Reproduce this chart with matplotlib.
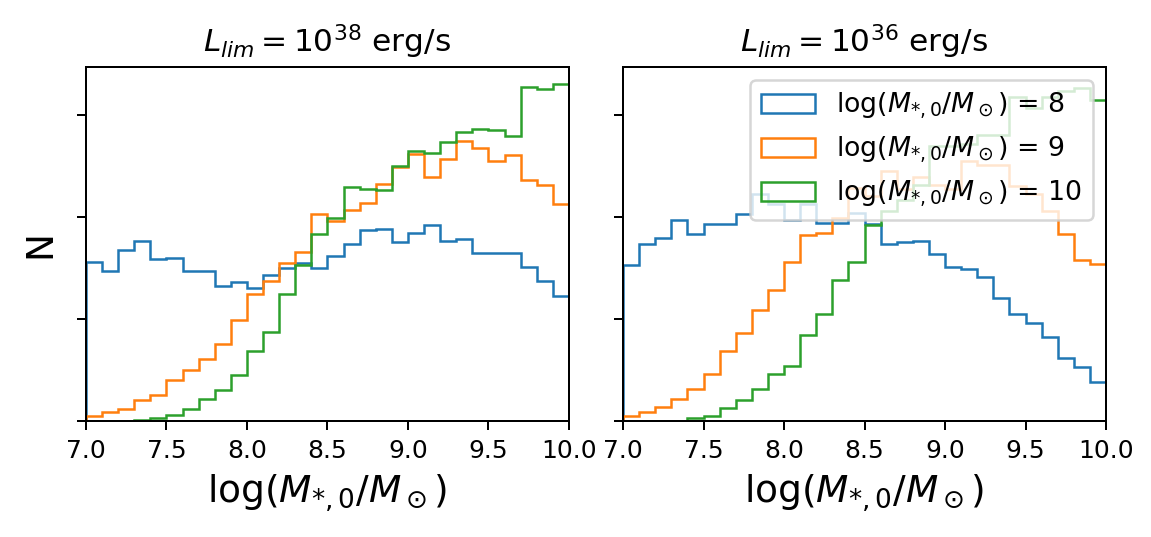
import numpy as np
import matplotlib
matplotlib.use("Agg")
import matplotlib.pyplot as plt

# bin edges: 30 bins between 7 and 10
edges = np.linspace(7.0, 10.0, 31)
centers = 0.5 * (edges[:-1] + edges[1:])

# counts (arbitrary units, y ticks are unlabelled)
left_m8 = [1.561, 1.475, 1.679, 1.767, 1.590, 1.600, 1.469, 1.469, 1.325, 1.367,
           1.305, 1.433, 1.502, 1.551, 1.495, 1.616, 1.734, 1.875, 1.885, 1.751,
           1.839, 1.918, 1.760, 1.786, 1.645, 1.645, 1.645, 1.511, 1.377, 1.226]
left_m9 = [0.046, 0.089, 0.115, 0.203, 0.256, 0.400, 0.498, 0.607, 0.754, 0.990,
           1.246, 1.374, 1.544, 1.659, 2.033, 1.957, 2.065, 2.140, 2.327, 2.491,
           2.622, 2.396, 2.566, 2.740, 2.681, 2.547, 2.609, 2.360, 2.317, 2.130]
left_m10 = [0.0, 0.0, 0.003, 0.007, 0.026, 0.059, 0.118, 0.213, 0.302, 0.452,
            0.685, 0.872, 1.246, 1.525, 1.830, 1.986, 2.291, 2.271, 2.262, 2.501,
            2.645, 2.625, 2.734, 2.832, 2.861, 2.852, 2.789, 3.271, 3.251, 3.304]

right_m8 = [1.534, 1.734, 1.797, 1.974, 1.833, 1.928, 1.934, 2.032, 2.229, 2.131,
            1.973, 2.131, 1.943, 1.943, 2.040, 1.928, 1.738, 1.751, 1.761, 1.636,
            1.511, 1.492, 1.410, 1.210, 1.049, 0.961, 0.823, 0.613, 0.528, 0.387]
right_m9 = [0.046, 0.089, 0.138, 0.213, 0.311, 0.459, 0.685, 0.862, 1.085, 1.285,
            1.561, 1.820, 1.843, 1.990, 2.280, 2.210, 2.450, 2.270, 2.390, 2.310,
            2.270, 2.547, 2.507, 2.507, 2.301, 2.229, 2.056, 1.829, 1.580, 1.541]
right_m10 = [0.0, 0.0, 0.0, 0.003, 0.026, 0.046, 0.125, 0.203, 0.318, 0.459,
             0.538, 0.843, 1.049, 1.384, 1.554, 1.925, 2.060, 2.163, 2.311, 2.700,
             2.700, 2.720, 2.800, 2.800, 3.180, 3.065, 3.180, 3.235, 3.260, 3.146]

labels = [r'log($M_{*,0}/M_\odot$) = 8',
          r'log($M_{*,0}/M_\odot$) = 9',
          r'log($M_{*,0}/M_\odot$) = 10']
titles = [r'$L_{lim}=10^{38}$ erg/s', r'$L_{lim}=10^{36}$ erg/s']

fig, axes = plt.subplots(1, 2, figsize=(1151/180, 537/180), dpi=180, sharey=True)
plt.subplots_adjust(left=0.0747, right=0.9609, bottom=0.216, top=0.8752, wspace=0.112)

panels = [[left_m8, left_m9, left_m10], [right_m8, right_m9, right_m10]]
for ax, data, title in zip(axes, panels, titles):
    for vals, lab in zip(data, labels):
        ax.hist(centers, bins=edges, weights=vals, histtype='step', label=lab)
    ax.set_xlim(7, 10)
    ax.set_ylim(0, 3.47)
    ax.set_yticks([0, 1, 2, 3])
    ax.set_yticklabels([])
    ax.set_xticks(np.arange(7.0, 10.01, 0.5))
    ax.set_xlabel(r'log($M_{*,0}/M_\odot$)', fontsize=15)
    ax.set_title(title, fontsize=12.5)

axes[0].set_ylabel('N', fontsize=15)
axes[1].legend(loc='upper right', fontsize=10.7)

fig.savefig('out.png', dpi=180)
